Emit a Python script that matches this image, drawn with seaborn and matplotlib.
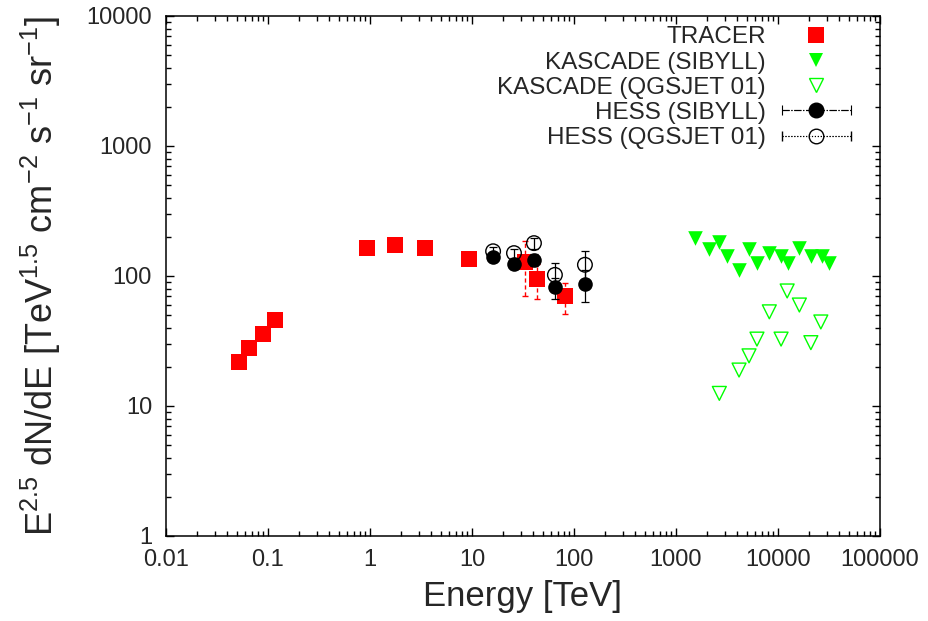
import numpy as np
import pandas as pd
import matplotlib
matplotlib.use('Agg')
import matplotlib.pyplot as plt
import seaborn as sns
from matplotlib.lines import Line2D
from matplotlib.legend_handler import HandlerErrorbar

# ---------------- data ----------------
tracer_energy = [0.052, 0.065, 0.089, 0.117, 0.93, 1.76, 3.46, 9.3, 33.0, 43.4, 81.0]
tracer_flux = [21.9, 27.9, 35.8, 46.0, 164.0, 174.0, 164.0, 135.0, 128.0, 95.0, 70.0]
tracer_err = [0, 0, 0, 0, 0, 0, 0, 0, 58.0, 28.0, 19.0]

kascade_sib_energy = [1549, 2102, 2637, 3160, 4150, 5200, 6220, 8220, 10720, 12450, 16200, 21000, 27000, 31860]
kascade_sib_flux = [195, 160, 182, 143, 111, 160, 127, 151, 143, 127, 163, 143, 143, 127]

kascade_qgs_energy = [2660, 4150, 5200, 6220, 8220, 10720, 12300, 16200, 21000, 26300]
kascade_qgs_flux = [12.5, 18.9, 24.3, 32.7, 53.0, 32.7, 76.7, 59.8, 30.7, 44.3]

hess_energy = [16.1, 25.8, 40.5, 65.0, 128.0]
hess_sib_flux = [140, 124, 133, 82, 87]
hess_sib_err = [10, 10, 14, 15, 24]
hess_qgs_flux = [155, 150, 179, 102, 122]
hess_qgs_err = [12, 12, 18, 23, 35]

series_labels = ['TRACER', 'KASCADE (SIBYLL)', 'KASCADE (QGSJET 01)',
                 'HESS (SIBYLL)', 'HESS (QGSJET 01)']
xtick_values = [0.01, 0.1, 1, 10, 100, 1000, 10000, 100000]
xtick_labels = ['0.01', '0.1', '1', '10', '100', '1000', '10000', '100000']
ytick_values = [1, 10, 100, 1000, 10000]
ytick_labels = ['1', '10', '100', '1000', '10000']
x_label = 'Energy [TeV]'
y_label = r'E$^{2.5}$ dN/dE [TeV$^{1.5}$ cm$^{-2}$ s$^{-1}$ sr$^{-1}$]'

RED = '#ff0000'
GREEN = '#00ff00'

# ---------------- style ----------------
sns.set_style('ticks')
plt.rcParams['font.family'] = ['Liberation Sans', 'DejaVu Sans']
plt.rcParams['mathtext.fontset'] = 'custom'
plt.rcParams['mathtext.rm'] = 'Liberation Sans'
plt.rcParams['mathtext.it'] = 'Liberation Sans:italic'
plt.rcParams['mathtext.default'] = 'regular'

fig = plt.figure(figsize=(9.29, 6.21), dpi=100)
ax = fig.add_axes([166 / 929, 1 - 536 / 621, 714 / 929, 520 / 621])
ax.set_xscale('log')
ax.set_yscale('log')

df_tracer = pd.DataFrame({'E': tracer_energy, 'F': tracer_flux, 'err': tracer_err})
df_ks = pd.DataFrame({'E': kascade_sib_energy, 'F': kascade_sib_flux})
df_kq = pd.DataFrame({'E': kascade_qgs_energy, 'F': kascade_qgs_flux})
df_hs = pd.DataFrame({'E': hess_energy, 'F': hess_sib_flux, 'err': hess_sib_err})
df_hq = pd.DataFrame({'E': hess_energy, 'F': hess_qgs_flux, 'err': hess_qgs_err})

# TRACER error bars (dashed red)
sel = df_tracer[df_tracer['err'] > 0]
eb = ax.errorbar(sel['E'], sel['F'], yerr=sel['err'], fmt='none', ecolor=RED,
                 elinewidth=1.0, capsize=2.5, capthick=1.0, zorder=2)
for c in eb[2]:
    c.set_linestyle((0, (3, 2)))

sns.scatterplot(data=df_tracer, x='E', y='F', marker='s', s=11.5 ** 2, color=RED,
                edgecolor=RED, linewidth=0, ax=ax, zorder=3, legend=False)
sns.scatterplot(data=df_ks, x='E', y='F', marker='v', s=10.5 ** 2, color=GREEN,
                edgecolor=GREEN, linewidth=0, ax=ax, zorder=3, legend=False)
sns.scatterplot(data=df_kq, x='E', y='F', marker='v', s=10.0 ** 2, color=GREEN,
                facecolors='none', edgecolor=GREEN, linewidth=1.0, ax=ax, zorder=3,
                legend=False)

# HESS error bars
ax.errorbar(df_hq['E'], df_hq['F'], yerr=df_hq['err'], fmt='none', ecolor='black',
            elinewidth=0.9, capsize=3, capthick=0.9, zorder=4)
ax.errorbar(df_hs['E'], df_hs['F'], yerr=df_hs['err'], fmt='none', ecolor='black',
            elinewidth=0.9, capsize=3, capthick=0.9, zorder=4)
sns.scatterplot(data=df_hq, x='E', y='F', marker='o', s=10.5 ** 2, color='black',
                facecolors='none', edgecolor='black', linewidth=1.0, ax=ax, zorder=5,
                legend=False)
sns.scatterplot(data=df_hs, x='E', y='F', marker='o', s=10.5 ** 2, color='black',
                edgecolor='black', linewidth=0, ax=ax, zorder=6, legend=False)

# ---------------- axes ----------------
ax.set_xlim(xtick_values[0], xtick_values[-1])
ax.set_ylim(ytick_values[0], ytick_values[-1])
ax.set_xticks(xtick_values, xtick_labels)
ax.set_yticks(ytick_values, ytick_labels)
ax.tick_params(which='both', direction='in', top=True, right=True, color='black',
               width=1.0)
ax.tick_params(which='major', length=6, labelsize=17)
ax.tick_params(axis='x', which='major', pad=9)
ax.tick_params(axis='y', which='major', pad=10)
ax.tick_params(which='minor', length=3.5)
for sp in ax.spines.values():
    sp.set_visible(True)
    sp.set_linewidth(1.1)
    sp.set_color('black')
ax.grid(False)
ax.set_xlabel(x_label, fontsize=25, labelpad=7)
ax.set_ylabel(y_label, fontsize=26, labelpad=17)

# ---------------- legend ----------------
h_tr = Line2D([], [], marker='s', ls='none', color=RED, markersize=11.5, mew=0)
h_ks = Line2D([], [], marker='v', ls='none', color=GREEN, markersize=10.5, mew=0)
h_kq = Line2D([], [], marker='v', ls='none', markerfacecolor='none',
              markeredgecolor=GREEN, markersize=10.0, mew=1.0)
h_hs = ax.errorbar([np.nan], [np.nan], xerr=[1.0], fmt='-.o', color='black', lw=0.8,
                   ms=10.5, capsize=3.5, elinewidth=0.8, capthick=0.8)
h_hs[2][0].set_linestyle('-.')
h_hq = ax.errorbar([np.nan], [np.nan], xerr=[1.0], fmt=':o', color='black', lw=0.8,
                   ms=10.5, mfc='none', mec='black', mew=1.0, capsize=3.5,
                   elinewidth=0.8, capthick=0.8)
h_hq[2][0].set_linestyle(':')

fs_leg = 17.5
hl = 2.85
leg = ax.legend([h_tr, h_ks, h_kq, h_hs, h_hq], series_labels, loc='upper right',
                bbox_to_anchor=(0.9594, 0.980), frameon=False, markerfirst=False,
                fontsize=fs_leg, handlelength=hl, handletextpad=0.65,
                labelspacing=0.13, borderpad=0, borderaxespad=0, numpoints=1,
                handler_map={type(h_hs): HandlerErrorbar(xerr_size=hl / 2, numpoints=1)})

fig.savefig('out.png', dpi=100)
